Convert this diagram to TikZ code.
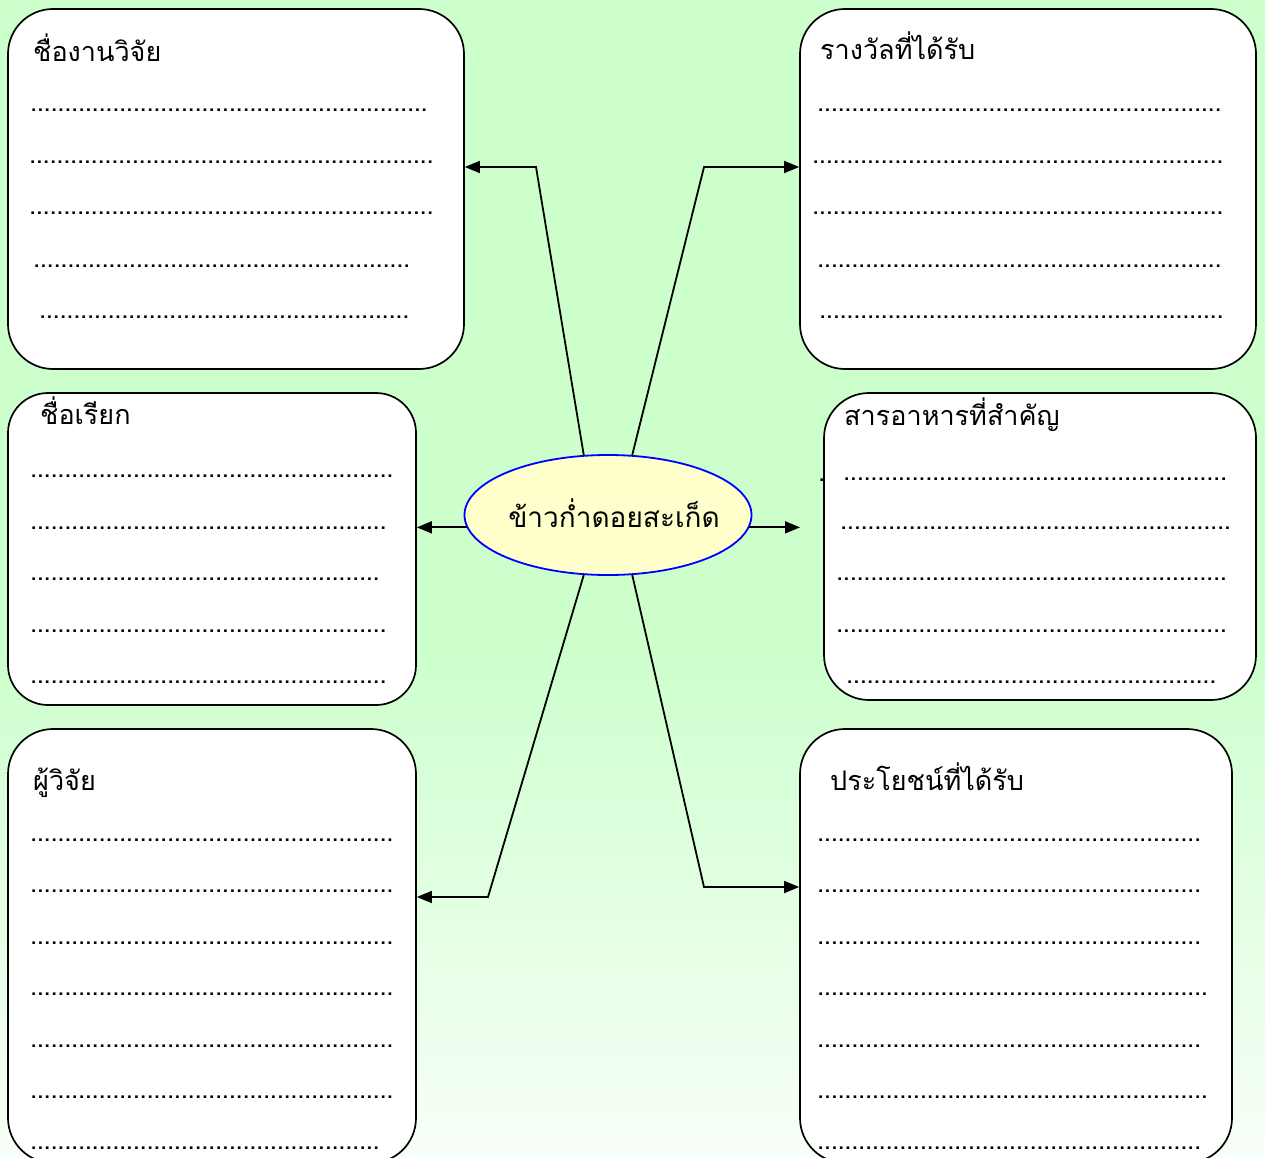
\documentclass[tikz,border=0pt]{standalone}
\usepackage{fontspec}
\newfontfamily\thai[Script=Thai]{Loma}
\usetikzlibrary{arrows.meta,shapes.geometric}
\definecolor{bgtop}{HTML}{CCFFCC}
\definecolor{bgbot}{HTML}{F8FFF8}
\definecolor{elfill}{HTML}{FFFFCC}
\newcommand\dotrow[1]{\hbox to #1pt{\leaders\hbox to 6.85pt{\hss.\hss}\hfill}}
\tikzset{
  box/.style={draw, line width=1.7pt, fill=white, rounded corners=45pt, inner sep=0pt},
  ttl/.style={anchor=base west, font=\thai\fontsize{27}{31}\selectfont, inner sep=0pt},
  dotline/.style={anchor=base west, font=\thai\fontsize{26}{30}\selectfont, inner sep=0pt},
  conn/.style={line width=1.8pt, -{Triangle[length=15pt,width=12pt]}},
}
\begin{document}
\begin{tikzpicture}[x=1pt,y=-1pt]
\useasboundingbox (0,0) rectangle (1265,1158);
\fill[bgtop] (0,0) rectangle (1265,640);
\shade[top color=bgtop, bottom color=bgbot] (0,639.5) rectangle (1265,1158);
% boxes
\node[box, minimum width=456pt, minimum height=360pt] (b1) at (236,189) {};
\node[box, minimum width=456pt, minimum height=360pt] (b2) at (1028,189) {};
\node[box, rounded corners=40pt, minimum width=408pt, minimum height=312pt] (b3) at (212,549) {};
\node[box, minimum width=432pt, minimum height=307pt] (b4) at (1040,546.5) {};
\node[box, minimum width=408pt, minimum height=434pt] (b5) at (212,946) {};
\node[box, minimum width=432pt, minimum height=434pt] (b6) at (1016,946) {};
% centre
\node[ellipse, draw=blue, line width=1.8pt, fill=elfill, minimum width=287pt, minimum height=120pt, inner sep=0pt] (c) at (608,515) {};
\node[ttl, anchor=base, font=\thai\fontsize{28}{32}\selectfont] (ct) at (614,527) {ข้าวก่ำดอยสะเก็ด};
% connectors
\coordinate (k1) at (536,167);
\coordinate (k2) at (704,167);
\coordinate (k5) at (488,897);
\coordinate (k6) at (704,887);
\coordinate (e4) at (800,527);
\draw[conn] (c.112) -- (k1) -- (k1 -| b1.east);
\draw[conn] (c.68) -- (k2) -- (k2 -| b2.west);
\draw[conn] (c.185) -- (c.185 -| b3.east);
\draw[conn] (c.355) -- (c.355 -| e4);
\draw[conn] (c.248) -- (k5) -- (k5 -| b5.east);
\draw[conn] (c.292) -- (k6) -- (k6 -| b6.west);
% titles
\node[ttl] (t1) at (33,62) {ชื่องานวิจัย};
\node[ttl] (t2) at (820,60) {รางวัลที่ได้รับ};
\node[ttl] (t3) at (40,424) {ชื่อเรียก};
\node[ttl] (t4) at (844,425) {สารอาหารที่สำคัญ};
\node[ttl] (t5) at (33,790) {ผู้วิจัย};
\node[ttl] (t6) at (830,790) {ประโยชน์ที่ได้รับ};
\node[dotline] (stray) at (818,481) {.};
% dotted lines
\foreach \a/\y/\b [count=\i] in {
  33/107/430, 32/159/436, 32/210/436, 36/262/410, 42/313/409,
  820/107/1225, 815/159/1226, 815/210/1226, 820/262/1225, 822/313/1226,
  33/472/393, 33/524/386, 33/575/379, 33/627/386, 33/678/386,
  846/475/1228, 843/524/1231, 839/575/1228, 839/627/1228, 849/678/1215,
  33/836/393, 33/887/393, 33/939/393, 33/990/393, 33/1042/393, 33/1093/393, 33/1144/378,
  820/836/1203, 820/887/1203, 820/939/1203, 820/990/1210, 820/1042/1203, 820/1093/1210, 820/1144/1203}
{
  \pgfmathsetmacro\w{\b-\a+6}
  \node[dotline] (d\i) at (\a-3,\y+5) {\dotrow{\w}};
}
\end{tikzpicture}
\end{document}
